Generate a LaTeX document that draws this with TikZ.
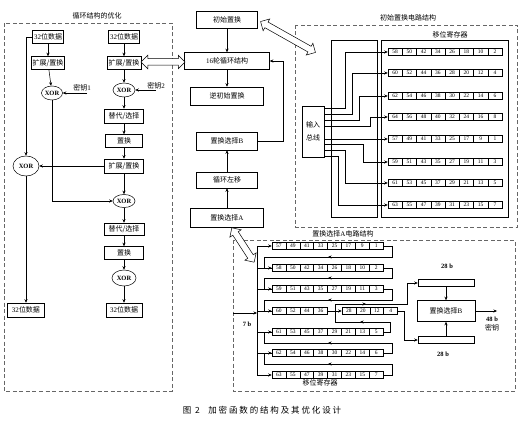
\documentclass[tikz,border=0pt]{standalone}
\usepackage{fontspec}
\setmainfont{Liberation Serif}
\newfontfamily\cjk{Noto Sans CJK SC}
\newfontfamily\cjkcap[LetterSpace=22]{Noto Sans CJK SC}
\usetikzlibrary{arrows.meta,shapes.geometric,shapes.arrows}

\tikzset{
  box/.style={draw, inner sep=1pt, minimum height=13pt, font=\fontsize{7}{8}\selectfont},
  xor/.style={draw, ellipse, inner sep=0pt, font=\bfseries\fontsize{6.5}{7}\selectfont},
  cell/.style={draw, minimum width=14.25pt, minimum height=7pt, inner sep=0pt, font=\fontsize{5.5}{6}\selectfont},
  acell/.style={cell, minimum width=13.9pt},
  lab/.style={inner sep=0pt, font=\fontsize{7}{8}\selectfont},
  frame/.style={draw=black!60, dash pattern=on 4pt off 2.5pt, line width=.6pt},
  link/.style={-{Stealth[length=3.5pt,width=3pt]}},
  tip/.style={-{Stealth[length=3.5pt,width=3pt]}},
  bigarrow/.style={draw, fill=white, double arrow, inner xsep=0pt, inner ysep=3pt,
    minimum width=13pt, double arrow head extend=3.5pt, line width=.5pt}
}

\begin{document}
\begin{tikzpicture}[x=1pt, y=-1pt, line width=.5pt]
\useasboundingbox (0,0) rectangle (527,430);

% dashed frames
\draw[frame] (4,23) rectangle (172,391);
\draw[frame] (295,25) rectangle (517,227);
\draw[frame] (233,240) rectangle (515,391);
\node[lab] (t1) at (97,16) {\cjk 循环结构的优化};
\node[lab] (t2) at (408,18) {\cjk 初始置换电路结构};
\node[lab] (t3) at (343,234) {{\cjk 置换选择}A{\cjk 电路结构}};

% optimized loop
\node[box, minimum width=31pt] (d1) at (48,37) {32\cjk 位数据};
\node[box, minimum width=31pt] (kz1) at (48,63) {\cjk 扩展/置换};
\node[xor, minimum width=21pt, minimum height=14pt] (x1) at (52,93) {XOR};
\node[lab] (key1) at (82,88) {{\cjk 密钥}1};
\coordinate (k1) at (87,93);
\node[box, minimum width=31pt] (d2) at (124,37) {32\cjk 位数据};
\node[box, minimum width=34pt] (kz2) at (124,63) {\cjk 扩展/置换};
\node[xor, minimum width=22pt, minimum height=14pt] (x2) at (124,90) {XOR};
\node[lab] (key2) at (156,86) {{\cjk 密钥}2};
\coordinate (k2) at (156,90);
\node[box, minimum width=39pt, minimum height=14pt] (th1) at (124,116) {\cjk 替代/选择};
\node[box, minimum width=37pt] (zh1) at (124,141) {\cjk 置换};
\node[box, minimum width=39pt, minimum height=14pt] (kz3) at (124,166) {\cjk 扩展/置换};
\node[xor, minimum width=22pt, minimum height=13pt] (x3) at (124,201) {XOR};
\node[box, minimum width=40pt, minimum height=12pt] (th2) at (124,229) {\cjk 替代/选择};
\node[box, minimum width=39pt] (zh2) at (124,253) {\cjk 置换};
\node[xor, minimum width=24pt, minimum height=16pt] (x4) at (124,278) {XOR};
\node[box, minimum width=36pt, minimum height=14pt] (d3) at (124,310) {32\cjk 位数据};
\node[xor, minimum width=26pt, minimum height=20pt] (bx) at (26,166) {XOR};
\node[box, minimum width=37pt, minimum height=14pt] (d4) at (26,310) {32\cjk 位数据};

\draw[link] (d1) -- (kz1);
\draw[link] (kz1) -- (x1);
\draw[link] (k1) -- (x1.east);
\draw[link] (d2) -- (kz2);
\draw[link] (kz2) -- (x2);
\draw[link] (k2) -- (x2.east);
\draw[link] (x2) -- (th1);
\draw[link] (th1) -- (zh1);
\draw[link] (zh1) -- (kz3);
\draw[link] (kz3) -- (x3);
\draw[link] (x3) -- (th2);
\draw[link] (th2) -- (zh2);
\draw[link] (zh2) -- (x4);
\draw[link] (x4) -- (d3);
\draw[link] (kz3.west) -- (bx.east);
\draw[link] (d1.west) -| (bx.north);
\draw[link] (x1.south) |- (x3.west);
\draw[link] (bx) -- (d4);

% main flow
\node[box, minimum width=61pt, minimum height=17pt] (cs) at (227,20) {\cjk 初始置换};
\node[box, minimum width=85pt, minimum height=17pt] (lun) at (227,61) {16\cjk 轮循环结构};
\node[box, minimum width=73pt, minimum height=18pt] (ni) at (227,96) {\cjk 逆初始置换};
\node[box, minimum width=61pt, minimum height=18pt] (pcb) at (227,141) {{\cjk 置换选择}B};
\node[box, minimum width=61pt, minimum height=16pt] (zy) at (227,180) {\cjk 循环左移};
\node[box, minimum width=73pt, minimum height=19pt] (pca) at (227,218) {{\cjk 置换选择}A};
\draw[link] (cs) -- (lun);
\draw[link] (lun) -- (ni);
\draw[link] (pca) -- (zy);
\draw[link] (zy) -- (pcb);
\draw[link] (pcb.east) -- ++(25,0) |- (lun.east);

% hollow arrows
\node[bigarrow, minimum height=44pt] (ha1) at (163,62) {};
\node[bigarrow, minimum height=63pt, rotate=-29.4] (ha2) at (288,37) {};
\node[bigarrow, minimum height=41pt, rotate=-57] (ha3) at (243,245) {};

% initial permutation circuit
\draw (331,40) rectangle (377,217);
\draw (381,40) rectangle (508,217);
\node[lab] (sr1) at (450,35) {\cjk 移位寄存器};
\node[draw, minimum width=22pt, minimum height=51pt, inner sep=0pt, align=center,
  font=\cjk\fontsize{7}{13}\selectfont] (bus) at (313,131.5) {输入\\总线};
\foreach \r/\y/\vals in {1/52/{58,50,42,34,26,18,10,2}, 2/73/{60,52,44,36,28,20,12,4},
    3/96/{62,54,46,38,30,22,14,6}, 4/117/{64,56,48,40,32,24,16,8},
    5/139/{57,49,41,33,25,17,9,1}, 6/162/{59,51,43,35,27,19,11,3},
    7/183/{61,53,45,37,29,21,13,5}, 8/205/{63,55,47,39,31,23,15,7}}
  \foreach \v [count=\i] in \vals
    \node[cell] (ip\r-\i) at (380.875+14.25*\i,\y) {\v};
\foreach \r/\yb/\xv in {1/108/345, 2/114/352, 3/120/359, 4/126/370, 6/144/363, 7/150/345, 8/156/338}
  \draw[link] (bus.east |- 0,\yb) -| (\xv,0 |- ip\r-1) -- (ip\r-1.west);
\draw[link] (bus.east |- ip5-1) -- (ip5-1.west);

% PC-1 circuit
\foreach \r/\y/\vals in {1/246/{57,49,41,33,25,17,9,1}, 2/268/{58,50,42,34,26,18,10,2},
    3/289/{59,51,43,35,27,19,11,3}, 5/332/{61,53,45,37,29,21,13,5},
    6/353/{62,54,46,38,30,22,14,6}, 7/375/{63,55,47,39,31,23,15,7}}
  \foreach \v [count=\i] in \vals
    \node[acell] (pa\r-\i) at (265.05+13.9*\i,\y) {\v};
\foreach \v [count=\i] in {60,52,44,36}
  \node[acell] (pa4-\i) at (265.05+13.9*\i,311) {\v};
\foreach \v [count=\i] in {28,20,12,4}
  \node[acell] (pb-\i) at (335.05+13.9*\i,311) {\v};
\node[lab] (sr2) at (320,383) {\cjk 移位寄存器};

\coordinate (bt) at (257,246);
\coordinate (bb) at (257,375);
\draw (bt) -- (bb);
\foreach \r in {1,...,7}
  \draw[link] (bt |- pa\r-1) -- (pa\r-1.west);
\coordinate (kin) at (233,313);
\draw[link] (kin) -- (bt |- kin);
\node[lab, font=\bfseries\fontsize{6.5}{7}\selectfont] (b7) at (247,324) {7 b};

\foreach \r/\n/\m in {1/2/257, 2/3/278, 3/4/300, 6/5/343, 7/6/364} {
  \draw (pa\r-8.east) -| (392,\m) -- (264,\m) |- (pa\n-1.west);
  \draw[tip] (392,\m) -- (328,\m);
}
\draw[link] (pa4-4.east) -- (pb-1.west);
\draw (pa5-8.east) -| (390,322) -- (335,322) -- (335,311);
\draw[tip] (390,322) -- (360,322);

\node[draw, minimum width=56pt, minimum height=7pt, inner sep=0pt] (reg1) at (446,283) {};
\node[draw, minimum width=56pt, minimum height=7pt, inner sep=0pt] (reg2) at (446,340) {};
\node[box, minimum width=58pt, minimum height=21pt] (pcb2) at (446,311) {{\cjk 置换选择}B};
\node[lab, font=\bfseries\fontsize{6.5}{7}\selectfont] (c28) at (447,266) {28 b};
\node[lab, font=\bfseries\fontsize{6.5}{7}\selectfont] (d28) at (443,354) {28 b};
\draw[link] (335,311) |- (407,304) |- (reg1.west);
\draw[tip] (335,304) -- (366,304);
\draw[link] (pb-4.east) -- ++(6,0) |- (reg2.west);
\draw[link] (reg1.south) -- (pcb2.north);
\draw[link] (reg2.north) -- (pcb2.south);
\coordinate (kout) at (497,311);
\draw[link] (pcb2.east) -- (kout);
\node[lab, font=\bfseries\fontsize{6.5}{7}\selectfont] (k48) at (492,319) {48 b};
\node[lab] (kk) at (492,328) {\cjk 密钥};

\node[font=\cjkcap\fontsize{8.5}{10}\selectfont] (cap) at (262,410) {图 2\quad 加密函数的结构及其优化设计};
\end{tikzpicture}
\end{document}
